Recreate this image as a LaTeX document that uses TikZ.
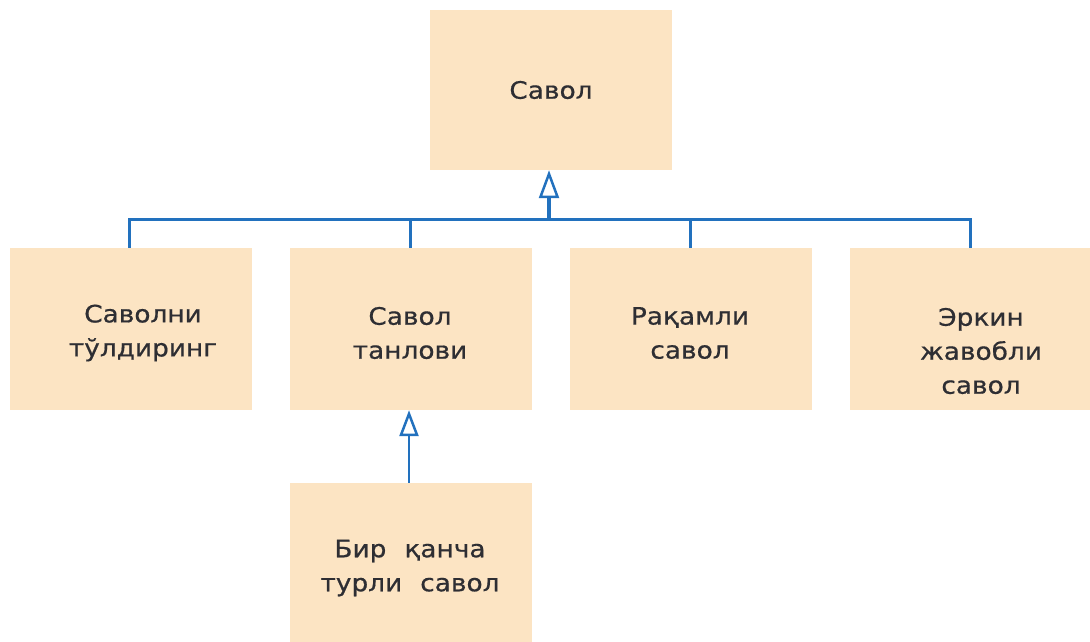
\documentclass[tikz,border=0pt]{standalone}
\usepackage{fontspec}
\setmainfont{DejaVu Sans}[FakeStretch=1.1, FakeBold=0.6]
\usetikzlibrary{arrows.meta}
\definecolor{boxfill}{HTML}{FCE4C3}
\definecolor{linecol}{HTML}{2271BE}
\definecolor{txtcol}{HTML}{2E2E33}
\tikzset{
  box/.style={fill=boxfill, draw=none, minimum width=242pt, inner sep=0pt},
  rowbox/.style={box, minimum height=162pt},
  txt/.style={text=txtcol, align=center, font=\fontsize{24}{34}\selectfont, inner sep=0pt},
  bus/.style={draw=linecol, line width=3pt},
  gen/.style={draw=linecol, line width=4.5pt, -{Triangle[open, length=28pt, width=20pt, line width=2.5pt]}},
  gensmall/.style={draw=linecol, line width=2pt, -{Triangle[open, length=26pt, width=19pt, line width=2.5pt]}}
}
\begin{document}
\begin{tikzpicture}[x=1pt,y=-1pt]
\useasboundingbox (0,0) rectangle (1090,641);
\node[box, minimum height=160pt] (top) at (551,90) {};
\node[txt] at (551,90) {Савол};
\node[rowbox] (b1) at (131,329) {};
\node[rowbox] (b2) at (411,329) {};
\node[rowbox] (b3) at (691,329) {};
\node[rowbox] (b4) at (971,329) {};
\node[box, minimum height=162pt] (b5) at (411,564) {};
\node[txt] at (143,333) {Саволни\\тўлдиринг};
\node[txt] at (410,333) {Савол\\танлови};
\node[txt] at (690,333) {Рақамли\\савол};
\node[txt] at (981,351) {Эркин\\жавобли\\савол};
\node[txt] at (410,568) {Бир\hspace{0.75em}қанча\\турли\hspace{0.75em}савол};
\coordinate (bus) at (549,219);
\coordinate (j1) at (129,219);
\coordinate (j2) at (410,219);
\coordinate (j3) at (690,219);
\coordinate (j4) at (970,219);
\draw[bus] (b1.north -| j1) -- (j1) -- (j4) -- (b4.north -| j4);
\draw[bus] (b2.north -| j2) -- (j2);
\draw[bus] (b3.north -| j3) -- (j3);
\coordinate (a2) at (409,0);
\draw[gen] (bus) -- (top.south -| bus);
\draw[gensmall] (b5.north -| a2) -- (b2.south -| a2);
\end{tikzpicture}
\end{document}
